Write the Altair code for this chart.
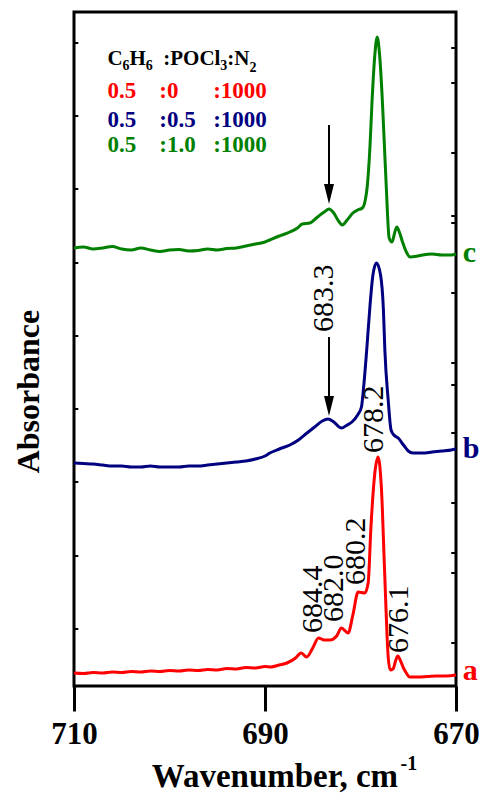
import altair as alt
import pandas as pd

FONT = "Liberation Serif"

# ---- spectra (wavenumber, cm-1 ; absorbance in arbitrary units) ----
red_w = [710, 709, 708, 707, 706, 705, 704, 703, 702, 701, 700, 699, 698, 697, 696, 695, 694, 693, 692, 691, 690,
         689.4, 688.5, 687.7, 686.8, 686.2, 685.65, 685.0, 684.4, 683.8, 683.2, 682.5, 682.0, 681.3, 680.8, 680.25,
         679.55, 679.2, 678.9, 678.5, 678.17, 677.8, 677.47, 677.1, 676.9, 676.6, 676.3, 676.1, 675.8, 675.5, 675.2,
         674.85, 674.0, 673.0, 672.0, 671.0, 670.0]
red_a = [13, 12.5, 13.5, 13, 14, 13.5, 14.5, 14, 15, 14.5, 15.5, 15, 16, 15.5, 16.5, 16, 17.5, 17, 18.5, 18, 19.5,
         19, 21, 23, 28, 33, 29, 38, 48, 46, 46, 50, 58, 53, 71, 94,
         93, 103, 160, 213, 229, 196, 113, 29, 16, 17, 26, 30, 25, 18, 13,
         9, 9, 9.5, 10, 10, 11]

blue_w = [710, 709, 708, 707, 706, 705, 704, 703, 702, 701, 700, 699, 698, 697, 696, 695, 694, 693, 692, 691, 690,
          689.5, 688.5, 687.4, 686.5, 685.6, 684.8, 684.0, 683.4, 682.8, 682.0, 681.4, 680.9, 680.3, 679.9, 679.7,
          679.35, 679.0, 678.7, 678.33, 677.9, 677.6, 677.45, 677.1, 676.8, 676.5, 676.05, 675.5, 675.0, 674.5,
          673.5, 672.5, 671.5, 670.5, 670.0]
blue_a = [223, 222.5, 222, 221, 220, 220, 219, 219, 220, 219, 219, 219, 220, 220, 221, 222, 223, 224, 225, 227, 230,
          233, 237, 241, 246, 253, 259, 265, 267, 264, 258, 261, 264, 271, 279, 296,
          336, 381, 411, 423, 411, 376, 336, 286, 256, 251, 248, 241, 235, 233,
          233, 234, 235, 236, 237]

green_w = [710, 709, 708, 707, 706, 705, 704, 703, 702, 701, 700, 699, 698, 697, 696, 695, 694, 693, 692, 691, 690,
           689.5, 688.5, 687.4, 686.6, 686.1, 685.3, 684.5, 683.8, 683.3, 682.8, 682.3, 681.9, 681.4, 680.8, 680.3,
           679.8, 679.5, 679.3, 679.0, 678.8, 678.5, 678.25, 678.0, 677.7, 677.5, 677.3, 677.0, 676.7, 676.4, 676.2,
           675.9, 675.6, 675.2, 674.8, 674.0, 673.5, 672.5, 671.5, 670.5, 670.0]
green_a = [438, 439, 437, 438, 439.5, 437, 436, 438, 436, 434.5, 436, 436.5, 435, 435.5, 437, 436, 437.5, 438, 440, 442, 444,
           446, 450, 454, 458, 462, 463, 469, 474, 477, 473, 465, 461, 466, 473, 476,
           478, 486, 499, 541, 583, 631, 649, 631, 583, 541, 499, 448, 444, 454, 459,
           453, 444, 434, 429, 430, 431, 432, 431, 431, 432]

series_names = ["a", "b", "c"]
series_colors = ["#ff0000", "#000080", "#008000"]

# ---- peak labels ----
peak_text = ["684.4", "682.0", "680.2", "678.2", "676.1", "683.3"]
peak_w = [684.99, 682.8, 680.5, 678.62, 676.0, 683.84]
peak_a = [53, 64, 101, 233, 33, 354]

# ---- arrows (at 683.3 cm-1) ----
arrow_w = [683.3, 683.3]
arrow_top = [561, 349]
arrow_head = [492, 280]

# ---- curve letters ----
letter_w = [669.3, 669.3, 669.3]
letter_a = [6, 228, 424]

# ---- composition legend ----
leg_text = ["C", "6", "H", "6", ":POCl", "3", ":N", "2",
            "0.5", ":0", ":1000",
            "0.5", ":0.5", ":1000",
            "0.5", ":1.0", ":1000"]
leg_w = [706.5, 704.91, 704.18, 702.48, 700.65, 694.68, 693.95, 691.63,
         706.5, 701.07, 695.43,
         706.5, 701.07, 695.43,
         706.5, 701.07, 695.43]
leg_a = [621, 616, 621, 616, 621, 616, 621, 614,
         588, 588, 588,
         559, 559, 559,
         534, 534, 534]
leg_size = [21, 14, 21, 14, 21, 14, 21, 14,
            23, 23, 23, 23, 23, 23, 23, 23, 23]
leg_color = ["black"] * 8 + ["#ff0000"] * 3 + ["#000080"] * 3 + ["#008000"] * 3

# ---- inward frame ticks ----
left_ticks = [57, 130, 204, 277, 350, 423, 497, 570, 643]
right_ticks = [43, 113, 133, 183, 253, 301, 323, 393, 463, 470, 533, 603, 638]

# ---- x-axis title pieces ----
xt_text = ["Wavenumber, cm", "-1"]
xt_w = [676.07, 675.8]
xt_a = [-101, -84]

# ---------------- build tables ----------------
rows = []
for name, ws, aa in zip(series_names, [red_w, blue_w, green_w], [red_a, blue_a, green_a]):
    for i, (w, a) in enumerate(zip(ws, aa)):
        rows.append({"s": name, "w": w, "a": a, "idx": i})
spec_df = pd.DataFrame(rows)

xscale = alt.Scale(domain=[710, 670], nice=False, zero=False)
yscale = alt.Scale(domain=[0, 674], nice=False, zero=False)

xaxis = alt.Axis(values=[710, 690, 670], title=None, domain=False, grid=False,
                 tickSize=25, tickWidth=3, tickColor="black",
                 labelFont=FONT, labelFontSize=31, labelFontWeight="bold", labelColor="black",
                 labelPadding=8, labelFlush=False)
yaxis = alt.Axis(title="Absorbance", labels=False, ticks=False, domain=False, grid=False,
                 titleFont=FONT, titleFontSize=32, titleFontWeight="bold", titleColor="black",
                 titleAngle=270, titleX=-46, titleY=379, titleAlign="center", titleBaseline="middle")

X = alt.X("w:Q", scale=xscale, axis=xaxis)
Y = alt.Y("a:Q", scale=yscale, axis=yaxis)

lines = alt.Chart(spec_df).mark_line(strokeWidth=3, interpolate="monotone").encode(
    x=X, y=Y,
    color=alt.Color("s:N", scale=alt.Scale(domain=series_names, range=series_colors), legend=None),
    order=alt.Order("idx:Q"),
)

peaks = alt.Chart(pd.DataFrame({"w": peak_w, "a": peak_a, "t": peak_text})).mark_text(
    angle=270, align="left", baseline="middle", font=FONT, fontSize=30, color="black"
).encode(x=X, y=Y, text="t:N")

arrow_df = pd.DataFrame({"w": arrow_w, "a": arrow_top, "a2": arrow_head})
shafts = alt.Chart(arrow_df).mark_rule(strokeWidth=2, color="black").encode(
    x=X, y=Y, y2="a2:Q")
heads = alt.Chart(pd.DataFrame({"w": arrow_w, "a": arrow_head})).mark_point(
    shape="M-0.5,-1L0.5,-1L0,1Z", size=400, filled=True, color="black", opacity=1, strokeWidth=0
).encode(x=X, y=Y)

letters = alt.Chart(pd.DataFrame({"w": letter_w, "a": letter_a, "t": series_names})).mark_text(
    align="left", baseline="alphabetic", font=FONT, fontSize=30, fontWeight="bold"
).encode(x=X, y=Y, text="t:N",
         color=alt.Color("t:N", scale=alt.Scale(domain=series_names, range=series_colors), legend=None))

legend = alt.Chart(pd.DataFrame({"w": leg_w, "a": leg_a, "t": leg_text, "sz": leg_size, "c": leg_color})).mark_text(
    align="left", baseline="alphabetic", font=FONT, fontWeight="bold"
).encode(x=X, y=Y, text="t:N",
         size=alt.Size("sz:Q", scale=None, legend=None), color=alt.Color("c:N", scale=None, legend=None))

xtitle = alt.Chart(pd.DataFrame({"w": xt_w[:1], "a": xt_a[:1], "t": xt_text[:1]})).mark_text(
    align="right", baseline="alphabetic", font=FONT, fontWeight="bold", color="black", fontSize=33
).encode(x=X, y=Y, text="t:N")
xsup = alt.Chart(pd.DataFrame({"w": xt_w[1:], "a": xt_a[1:], "t": xt_text[1:]})).mark_text(
    align="left", baseline="alphabetic", font=FONT, fontWeight="bold", color="black", fontSize=20
).encode(x=X, y=Y, text="t:N")

tick_rows = [{"w": 710, "w2": 709.55, "a": v} for v in left_ticks] + \
            [{"w": 670, "w2": 670.5, "a": v} for v in right_ticks]
ticks = alt.Chart(pd.DataFrame(tick_rows)).mark_rule(strokeWidth=2, color="black").encode(
    x=X, x2="w2:Q", y=Y)

chart = alt.layer(lines, ticks, shafts, heads, peaks, letters, legend, xtitle, xsup).properties(
    width=382, height=674,
    background="white",
    autosize=alt.AutoSizeParams(type="none"),
    padding={"left": 74, "top": 12, "right": 29, "bottom": 109},
).configure_view(stroke="black", strokeWidth=3)

chart.save("out.html", embed_options={"renderer": "svg", "actions": False})
